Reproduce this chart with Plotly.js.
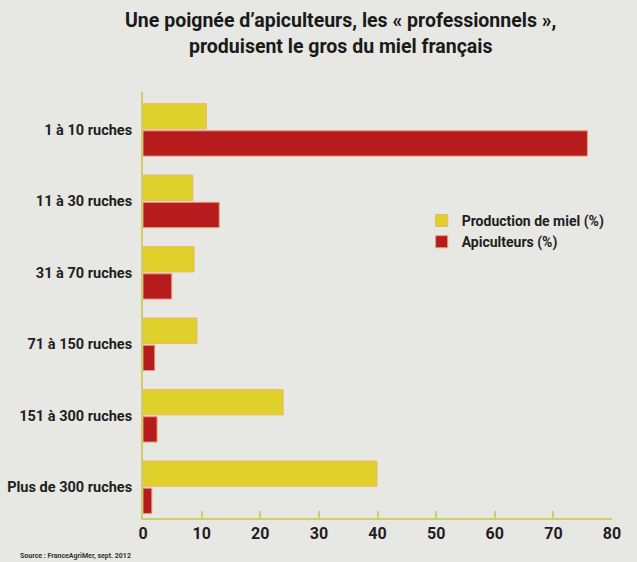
<!DOCTYPE html>
<html><head><meta charset="utf-8">
<script src="https://cdn.plot.ly/plotly-3.0.1.min.js"></script>
<style>html,body{margin:0;padding:0;background:#e7e7e3;}</style>
</head><body>
<div id="chart" style="width:637px;height:562px;"></div>
<script>
const categories = ["1 à 10 ruches", "11 à 30 ruches", "31 à 70 ruches", "71 à 150 ruches", "151 à 300 ruches", "Plus de 300 ruches"];
const production = [10.8, 8.5, 8.7, 9.2, 23.9, 39.9];
const apiculteurs = [75.8, 13.0, 4.9, 2.0, 2.4, 1.5];
const xTicks = [0, 10, 20, 30, 40, 50, 60, 70, 80];
const seriesNames = ["Production de miel (%)", "Apiculteurs (%)"];
const titleLines = ["Une poignée d’apiculteurs, les « professionnels »,", "produisent le gros du miel français"];

const FONT = "Roboto, 'Liberation Sans', sans-serif";
function f(size, color) { return {family: FONT, size: size, color: color || "#1e1e1e", weight: "bold"}; }

const traces = [
  {type: "bar", orientation: "h", name: seriesNames[0], y: categories, x: production,
   marker: {color: "#e0d02c", line: {color: "#e8b860", width: 1}}, hoverinfo: "x"},
  {type: "bar", orientation: "h", name: seriesNames[1], y: categories, x: apiculteurs,
   marker: {color: "#b61b1e", line: {color: "#e89a70", width: 1}}, hoverinfo: "x"}
];

const layout = {
  width: 637, height: 562,
  paper_bgcolor: "#e7e7e3", plot_bgcolor: "rgba(0,0,0,0)",
  margin: {l: 143, r: 25, t: 92, b: 44},
  barmode: "group", bargap: 0.24, bargroupgap: 0.07,
  showlegend: true,
  legend: {x: 0.995, y: 0.735, xanchor: "right", yanchor: "top",
           bgcolor: "rgba(0,0,0,0)", font: f(14), tracegroupgap: 0},
  xaxis: {range: [0, 80], tickvals: xTicks, ticktext: xTicks.map(String), showgrid: false, zeroline: false,
          showline: true, linecolor: "#cfcf6a", linewidth: 2, ticks: "inside", ticklen: 7, tickwidth: 2, tickcolor: "#cfcf6a",
          tickfont: f(16), fixedrange: true},
  yaxis: {type: "category", range: [5.43, -0.53], showgrid: false, zeroline: false,
          showline: true, linecolor: "#cfcf6a", linewidth: 2, ticks: "", ticklabelstandoff: 6,
          tickfont: f(14.5), fixedrange: true},
  annotations: [
    {text: titleLines[0], xref: "paper", yref: "paper", x: 0.422, y: 1.169, xanchor: "center", yanchor: "middle",
     showarrow: false, font: f(19.5, "#1a1a1a")},
    {text: titleLines[1], xref: "paper", yref: "paper", x: 0.422, y: 1.106, xanchor: "center", yanchor: "middle",
     showarrow: false, font: f(19.5, "#1a1a1a")},
    {text: "Source : FranceAgriMer, sept. 2012", xref: "paper", yref: "paper", x: -0.267, y: -0.089,
     xanchor: "left", yanchor: "middle", showarrow: false, font: f(7, "#333")}]
};

Plotly.newPlot("chart", traces, layout, {displayModeBar: false, staticPlot: true});
</script>
</body></html>
